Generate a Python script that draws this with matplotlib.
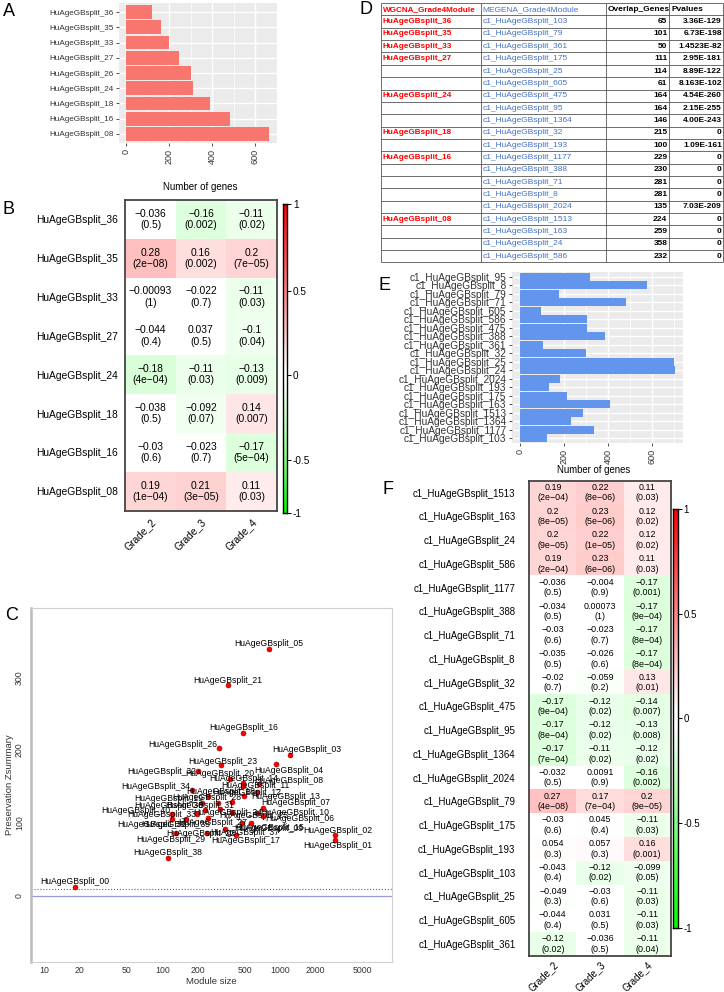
import numpy as np
import matplotlib
matplotlib.use('Agg')
import matplotlib.pyplot as plt
from matplotlib.colors import LinearSegmentedColormap, Normalize
from matplotlib.transforms import ScaledTranslation

plt.rcParams['font.family'] = ['Liberation Sans', 'DejaVu Sans']

W, H = 724, 992

# ---------------- data ----------------
# A: WGCNA module sizes
a_modules = ['HuAgeGBsplit_36', 'HuAgeGBsplit_35', 'HuAgeGBsplit_33', 'HuAgeGBsplit_27',
             'HuAgeGBsplit_26', 'HuAgeGBsplit_24', 'HuAgeGBsplit_18', 'HuAgeGBsplit_16',
             'HuAgeGBsplit_08']
a_genes = [120, 160, 197, 247, 299, 310, 389, 482, 665]

# B: module-trait correlations (rows x grades)
grades = ['Grade_2', 'Grade_3', 'Grade_4']
b_rows = ['HuAgeGBsplit_36', 'HuAgeGBsplit_35', 'HuAgeGBsplit_33', 'HuAgeGBsplit_27',
          'HuAgeGBsplit_24', 'HuAgeGBsplit_18', 'HuAgeGBsplit_16', 'HuAgeGBsplit_08']
b_cor = [[-0.036, -0.16, -0.11],
         [0.28, 0.16, 0.2],
         [-0.00093, -0.022, -0.11],
         [-0.044, 0.037, -0.1],
         [-0.18, -0.11, -0.13],
         [-0.038, -0.092, 0.14],
         [-0.03, -0.023, -0.17],
         [0.19, 0.21, 0.11]]
b_pval = [[0.5, 0.002, 0.02],
          [2e-08, 0.002, 7e-05],
          [1, 0.7, 0.03],
          [0.4, 0.5, 0.04],
          [4e-04, 0.03, 0.009],
          [0.5, 0.07, 0.007],
          [0.6, 0.7, 5e-04],
          [1e-04, 3e-05, 0.03]]

# C: preservation Zsummary vs module size
c_modules = ['05', '21', '16', '26', '03', '23', '04', '32', '20', '14', '11', '08', '34', '12',
             '19', '13', '30', '28', '18', '07', '31', '24', '25', '33', '36', '10', '06', '40',
             '35', '27', '09', '15', '37', '22', '29', '17', '02', '01', '38', '00']
c_size = [798, 360, 483, 301, 1216, 316, 920, 200, 375, 486, 486, 659, 177, 635,
          245, 492, 217, 299, 392, 713, 230, 308, 387, 198, 121, 631, 718, 121,
          158, 245, 476, 568, 340, 238, 131, 419, 2925, 2925, 111, 18]
c_zsum = [339, 290, 224, 203, 194, 179, 181, 172, 161, 155, 151, 153, 145, 142,
          137, 137, 127, 128, 129, 121, 118, 120, 115, 113, 112, 114, 110, 105,
          105, 107, 100, 100, 92, 86, 86, 83, 83, 77, 52, 13]
# label shift from its point, in pixels (right, down)
c_label_shift = [(0, -5), (0, -4), (1, -5), (-36, -3), (16, -5), (1, -4), (13, 6), (-36, 1),
                 (-10, -5), (0, -4), (12, 0), (30, -4), (-36, -4), (-10, 0), (-40, 2), (42, 0),
                 (-33, 2), (-12, -5), (-12, -10), (33, -5), (-5, -4), (8, 4), (22, 3), (-36, 1),
                 (-20, 10), (38, 0), (36, 3), (-36, -9), (-10, 5), (4, 5), (26, 5), (18, 4),
                 (20, 4), (-6, 0), (-5, 6), (10, 5), (3, -5), (2, 6), (0, -6), (0, -5)]

# D: overlap table
d_header = ['WGCNA_Grade4Module', 'MEGENA_Grade4Module', 'Overlap_Genes', 'Pvalues']
d_wgcna = ['HuAgeGBsplit_36', 'HuAgeGBsplit_35', 'HuAgeGBsplit_33', 'HuAgeGBsplit_27', '', '',
           'HuAgeGBsplit_24', '', '', 'HuAgeGBsplit_18', '', 'HuAgeGBsplit_16', '', '', '', '',
           'HuAgeGBsplit_08', '', '', '']
d_megena = ['c1_HuAgeGBsplit_103', 'c1_HuAgeGBsplit_79', 'c1_HuAgeGBsplit_361',
            'c1_HuAgeGBsplit_175', 'c1_HuAgeGBsplit_25', 'c1_HuAgeGBsplit_605',
            'c1_HuAgeGBsplit_475', 'c1_HuAgeGBsplit_95', 'c1_HuAgeGBsplit_1364',
            'c1_HuAgeGBsplit_32', 'c1_HuAgeGBsplit_193', 'c1_HuAgeGBsplit_1177',
            'c1_HuAgeGBsplit_388', 'c1_HuAgeGBsplit_71', 'c1_HuAgeGBsplit_8',
            'c1_HuAgeGBsplit_2024', 'c1_HuAgeGBsplit_1513', 'c1_HuAgeGBsplit_163',
            'c1_HuAgeGBsplit_24', 'c1_HuAgeGBsplit_586']
d_overlap = [65, 101, 50, 111, 114, 61, 164, 164, 146, 215, 100, 229, 230, 281, 281, 135,
             224, 259, 358, 232]
d_pvalues = ['3.36E-129', '6.73E-198', '1.4523E-82', '2.95E-181', '8.89E-122', '8.163E-102',
             '4.54E-260', '2.15E-255', '4.00E-243', '0', '1.09E-161', '0', '0', '0', '0',
             '7.03E-209', '0', '0', '0', '0']

# E: MEGENA module sizes
e_modules = ['c1_HuAgeGBsplit_95', 'c1_HuAgeGBsplit_8', 'c1_HuAgeGBsplit_79', 'c1_HuAgeGBsplit_71',
             'c1_HuAgeGBsplit_605', 'c1_HuAgeGBsplit_586', 'c1_HuAgeGBsplit_475',
             'c1_HuAgeGBsplit_388', 'c1_HuAgeGBsplit_361', 'c1_HuAgeGBsplit_32',
             'c1_HuAgeGBsplit_25', 'c1_HuAgeGBsplit_24', 'c1_HuAgeGBsplit_2024',
             'c1_HuAgeGBsplit_193', 'c1_HuAgeGBsplit_175', 'c1_HuAgeGBsplit_163',
             'c1_HuAgeGBsplit_1513', 'c1_HuAgeGBsplit_1364', 'c1_HuAgeGBsplit_1177',
             'c1_HuAgeGBsplit_103']
e_genes = [319, 576, 179, 482, 98, 306, 306, 387, 104, 300, 698, 703, 184, 133, 215, 410,
           286, 233, 336, 125]

# F: MEGENA module-trait correlations
f_rows = ['c1_HuAgeGBsplit_1513', 'c1_HuAgeGBsplit_163', 'c1_HuAgeGBsplit_24',
          'c1_HuAgeGBsplit_586', 'c1_HuAgeGBsplit_1177', 'c1_HuAgeGBsplit_388',
          'c1_HuAgeGBsplit_71', 'c1_HuAgeGBsplit_8', 'c1_HuAgeGBsplit_32',
          'c1_HuAgeGBsplit_475', 'c1_HuAgeGBsplit_95', 'c1_HuAgeGBsplit_1364',
          'c1_HuAgeGBsplit_2024', 'c1_HuAgeGBsplit_79', 'c1_HuAgeGBsplit_175',
          'c1_HuAgeGBsplit_193', 'c1_HuAgeGBsplit_103', 'c1_HuAgeGBsplit_25',
          'c1_HuAgeGBsplit_605', 'c1_HuAgeGBsplit_361']
f_cor = [[0.19, 0.22, 0.11], [0.2, 0.23, 0.12], [0.2, 0.22, 0.12], [0.19, 0.23, 0.11],
         [-0.036, -0.004, -0.17], [-0.034, 0.00073, -0.17], [-0.03, -0.023, -0.17],
         [-0.035, -0.026, -0.17], [-0.02, -0.059, 0.13], [-0.17, -0.12, -0.14],
         [-0.17, -0.12, -0.13], [-0.17, -0.11, -0.12], [-0.032, 0.0091, -0.16],
         [0.27, 0.17, 0.2], [-0.03, 0.045, -0.11], [0.054, 0.057, 0.16],
         [-0.043, -0.12, -0.099], [-0.049, -0.03, -0.11], [-0.044, 0.031, -0.11],
         [-0.12, -0.036, -0.11]]
f_pval = [[2e-04, 8e-06, 0.03], [8e-05, 5e-06, 0.02], [9e-05, 1e-05, 0.02], [2e-04, 6e-06, 0.03],
          [0.5, 0.9, 0.001], [0.5, 1, 9e-04], [0.6, 0.7, 8e-04], [0.5, 0.6, 8e-04],
          [0.7, 0.2, 0.01], [9e-04, 0.02, 0.007], [8e-04, 0.02, 0.008], [7e-04, 0.02, 0.02],
          [0.5, 0.9, 0.002], [4e-08, 7e-04, 9e-05], [0.6, 0.4, 0.03], [0.3, 0.3, 0.001],
          [0.4, 0.02, 0.05], [0.3, 0.6, 0.03], [0.4, 0.5, 0.03], [0.02, 0.5, 0.04]]

cbar_ticks = [-1, -0.5, 0, 0.5, 1]

# ---------------- helpers ----------------
fig = plt.figure(figsize=(W / 100, H / 100), dpi=100)
# green - white - red, with a small neutral zone around 0
gwr = LinearSegmentedColormap.from_list(
    'gwr', [(0.0, '#00FF00'), (0.48, '#FFFFFF'), (0.52, '#FFFFFF'), (1.0, '#FF0000')], N=256)
norm = Normalize(-1, 1)


def px_axes(x0, y0, x1, y1):
    return fig.add_axes([x0 / W, 1 - y1 / H, (x1 - x0) / W, (y1 - y0) / H])


def fmt_r(v):
    return format(v, '.2g').replace('-', '\u2212')


def fmt_p(v):
    fixed = np.format_float_positional(v, trim='-')
    sci = f'{v:.0e}'
    s = sci if len(sci) < len(fixed) else fixed
    return s.replace('-', '\u2212')


def gg_barh(ax, labels, values, color, label_size):
    y = np.arange(len(labels))[::-1]
    ax.set_facecolor('#EBEBEB')
    ax.barh(y, values, height=0.9, color=color, zorder=3)
    vmax = max(values)
    ax.set_xlim(-0.05 * vmax, 1.05 * vmax)
    ax.set_ylim(-0.6, len(labels) - 0.4)
    ax.set_yticks(y, labels, fontsize=label_size, color='#333333')
    ax.set_xticks([0, 200, 400, 600])
    ax.set_xticks([100, 300, 500, 700], minor=True)
    ax.grid(True, which='major', color='white', lw=1.0, zorder=1)
    ax.grid(True, which='minor', axis='x', color='white', lw=0.5, zorder=1)
    ax.set_axisbelow(True)
    ax.tick_params(axis='x', which='major', labelrotation=90, labelsize=6.5,
                   labelcolor='#333333', length=2.5, width=0.6, color='#333333', pad=1.5)
    ax.tick_params(axis='y', length=2.5, width=0.6, color='#333333', pad=1.5)
    ax.tick_params(which='minor', length=0)
    for s in ax.spines.values():
        s.set_visible(False)


def heatmap(ax, rows, cols, cor, pval, cell_size, label_size, spacing, row_pad, col_dy):
    n = len(rows)
    ax.imshow(np.array(cor), cmap=gwr, norm=norm, aspect='auto', interpolation='nearest',
              extent=(0, len(cols), n, 0))
    ax.set_xlim(0, len(cols))
    ax.set_ylim(n, 0)
    for i in range(n):
        for j in range(len(cols)):
            ax.text(j + 0.5, i + 0.5, f'{fmt_r(cor[i][j])}\n({fmt_p(pval[i][j])})',
                    ha='center', va='center', fontsize=cell_size, linespacing=spacing)
    ax.set_yticks(np.arange(n) + 0.5, rows, fontsize=label_size)
    ax.tick_params(axis='y', length=0, pad=row_pad)
    ax.set_xticks([])
    shift = ax.get_xaxis_transform() + ScaledTranslation(0, -col_dy / 100, fig.dpi_scale_trans)
    for j, c in enumerate(cols):
        ax.text(j + 0.5, 0, c, transform=shift, rotation=45, ha='right', va='top',
                rotation_mode='anchor', fontsize=label_size)
    for s in ax.spines.values():
        s.set_color('#444444')
        s.set_linewidth(1.3)


def colorbar(cax, fracs, label_size):
    f = np.linspace(0, 1, 300)
    v = np.interp(f, fracs, cbar_ticks)
    cax.imshow(v[:, None], cmap=gwr, norm=norm, aspect='auto', origin='lower',
               extent=(0, 1, 0, 1), interpolation='nearest')
    cax.set_xlim(0, 1)
    cax.set_ylim(0, 1)
    cax.set_xticks([])
    cax.yaxis.tick_right()
    cax.set_yticks(fracs, [f'{t:g}' for t in cbar_ticks], fontsize=label_size)
    cax.tick_params(axis='y', length=3, width=0.7, pad=1)
    for s in cax.spines.values():
        s.set_linewidth(1.0)


# ---------------- A ----------------
axa = px_axes(119, 3, 277, 143)
gg_barh(axa, a_modules, a_genes, '#F8766D', 5.9)
fig.text(200 / W, 1 - 187 / H, 'Number of genes', ha='center', va='center', fontsize=7)

# ---------------- B ----------------
axb = px_axes(125.3, 200, 276.7, 510.7)
heatmap(axb, b_rows, grades, b_cor, b_pval, 7.4, 7.4, 1.15, 5, 6)
cb = px_axes(283, 204.3, 287.3, 512.7)
colorbar(cb, [0.0, 0.17, 0.445, 0.72, 1.0], 7.2)

# ---------------- C ----------------
axc = px_axes(31, 608, 392, 962)
axc.set_xscale('log')
axc.set_xlim(7.7, 8850)
axc.set_ylim(-90.5, 395)
axc.axhline(0, color='#9A9AD8', lw=0.9, zorder=1)
axc.axhline(10, color='#2E8B2E', lw=0.8, ls=':', zorder=1)
axc.scatter(c_size, c_zsum, s=13, c='red', edgecolors='#990000', linewidths=0.4, zorder=3)
for name, x, y, (dx, dy) in zip(c_modules, c_size, c_zsum, c_label_shift):
    axc.annotate('HuAgeGBsplit_' + name, (x, y), xytext=(dx * 0.72, -dy * 0.72),
                 textcoords='offset points', ha='center', va='center', fontsize=6.25, zorder=4)
xt = [10, 20, 50, 100, 200, 500, 1000, 2000, 5000]
axc.set_xticks(xt, [str(t) for t in xt])
axc.xaxis.set_minor_locator(matplotlib.ticker.NullLocator())
axc.set_yticks([0, 100, 200, 300])
axc.tick_params(axis='x', length=0, pad=3, labelsize=6.3, labelcolor='#333333')
axc.tick_params(axis='y', length=0, pad=5, labelsize=6.3, labelcolor='#333333')
for lab in axc.get_yticklabels():
    lab.set_rotation(90)
    lab.set_va('center')
axc.set_xlabel('Module size', fontsize=6.8, color='#333333', labelpad=1)
axc.set_ylabel('Preservation Zsummary', fontsize=6.8, color='#333333', labelpad=1)
for s in axc.spines.values():
    s.set_color('#D0D0D0')
    s.set_linewidth(0.8)
axc.spines['left'].set_color('#BBBBBB')
axc.spines['left'].set_linewidth(1.8)

# ---------------- D ----------------
top, rh = 3.1, 12.35
edges = [380.7, 480.7, 606, 669.3, 723.3]
nrow = len(d_wgcna) + 1
axd = px_axes(edges[0], top, edges[-1], top + nrow * rh)
axd.set_xlim(edges[0], edges[-1])
axd.set_ylim(top + nrow * rh, top)
axd.axis('off')
axd.hlines([top + i * rh for i in range(nrow + 1)], edges[0], edges[-1], color='#555555',
           lw=0.6, clip_on=False)
axd.vlines(edges, top, top + nrow * rh, color='#555555', lw=0.6, clip_on=False)
red, blue = '#FF0000', '#4472C4'
cells = [d_header] + [[w, m, str(o), p] for w, m, o, p in zip(d_wgcna, d_megena, d_overlap, d_pvalues)]
for i, row in enumerate(cells):
    yc = top + (i + 0.5) * rh
    axd.text(edges[0] + 2, yc, row[0], color=red, fontweight='bold', fontsize=5.9, va='center')
    axd.text(edges[1] + 2, yc, row[1], color=blue, fontsize=6, va='center')
    if i == 0:
        axd.text(edges[2] + 2, yc, row[2], fontweight='bold', fontsize=6, va='center')
        axd.text(edges[3] + 2, yc, row[3], fontweight='bold', fontsize=6, va='center')
    else:
        axd.text(edges[3] - 2, yc, row[2], fontweight='bold', fontsize=6, va='center', ha='right')
        axd.text(edges[4] - 1.5, yc, row[3], fontweight='bold', fontsize=6, va='center', ha='right')

# ---------------- E ----------------
axe = px_axes(512, 271.7, 682.7, 443.3)
gg_barh(axe, e_modules, e_genes, '#6495ED', 7.3)
fig.text(593.3 / W, 1 - 470 / H, 'Number of genes', ha='center', va='center', fontsize=6.9)

# ---------------- F ----------------
axf = px_axes(529.3, 480.7, 670.7, 955.7)
heatmap(axf, f_rows, grades, f_cor, f_pval, 6.4, 6.95, 1.2, 10, 4)
cf = px_axes(673.3, 509, 678, 927.7)
colorbar(cf, [0.0, 0.25, 0.5, 0.75, 1.0], 7.0)

# ---------------- panel letters ----------------
for letter, x, y in [('A', 9, 12), ('B', 8, 210), ('C', 12, 615),
                     ('D', 366, 10), ('E', 385, 285), ('F', 388, 490)]:
    fig.text(x / W, 1 - y / H, letter, fontsize=13, ha='center', va='center')

fig.savefig('out.png', dpi=100)
